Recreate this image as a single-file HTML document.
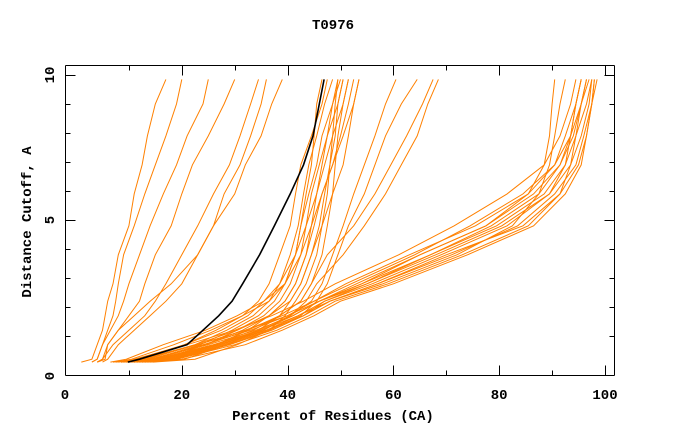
<!DOCTYPE html>
<html><head><meta charset="utf-8"><style>
html,body{margin:0;padding:0;background:#fff;width:680px;height:440px;overflow:hidden}
svg text{font-family:"Liberation Mono",monospace;font-weight:bold;font-size:14px;fill:#000}
</style></head><body>
<svg id="chart" width="680" height="440" xmlns="http://www.w3.org/2000/svg">
<text x="333" y="29" text-anchor="middle">T0976</text>
<text x="333" y="420" text-anchor="middle">Percent of Residues (CA)</text>
<text x="0" y="0" text-anchor="middle" transform="translate(31,222) rotate(-90)">Distance Cutoff, A</text>
<g id="series"></g>
<g id="axes"></g>
</svg>
<script>
const cutoffs=[0.1,0.2,0.7,1.2,1.7,2.2,2.8,3.8,4.8,5.9,6.9,7.9,9,9.85];
const xTicks=[0,20,40,60,80,100];
const yTicks=[0,5,10];
const highlight=[9.8,12,21,24,27,29.5,31.5,34.7,37.5,40.5,43,44.8,46,46.9];
const groupA=[
[1,3,4,5,5.5,6,7,8,10,11,12.5,13.5,15,17],
[3,4,5,6,7,7.5,8,9,11,13,15,17,19,20],
[3,4,5,6.5,8,9,10,12,14,16.5,19,21,24,25],
[4,5,6,8,10,12,13,15,18,20,22,25,28,30],
[4,5,7,10,13,15,17,20,23,26,29,31,33,34.5],
[5,6,8,11,14,17,20,23,26,30,32,35,37,39],
[4,5.5,6,8,11,14,18,23,26,28,31,33,35,36]];
const groupB=[
[7.5,11.5,20.5,26.5,31.5,34.5,36.5,38.5,40.5,41.5,42.5,44.5,46.5,47.5],
[8.5,13.5,22.5,28.5,33.5,36.5,38.5,40.5,42,43,44,45.5,47,48.5],
[10.5,14.5,23.5,29.5,34.5,37.5,39.5,41.5,42.5,44,45.5,46.5,48.5,49.5],
[11.5,16.5,24.5,30.5,35.5,38.5,40.5,42.5,43.5,44.5,46,47.5,49.5,50.5],
[12.5,18.5,26.5,32.5,36.5,39.5,41.5,43.5,44.5,45.5,47,48.5,50.5,51.5],
[8.5,12.5,20.5,27.5,32.5,35.5,38.5,41.5,43.5,45.5,46.5,47.5,48.5,50],
[9.5,14.5,24.5,31.5,36.5,39.5,41.5,43.5,45,46.5,48.5,50,51.5,52.5],
[13.5,20.5,28.5,34.5,38.5,40.5,42.5,44.5,46,47,48,49,49.5,50.5],
[7.5,10.5,18.5,25.5,31.5,36.5,39.5,42.5,44.5,46.5,48.5,50.5,52.5,53.5],
[14.5,22.5,30.5,36.5,39.5,41.5,43.5,45.5,46.5,47.5,48,48.5,49,49.5],
[10.5,16.5,26.5,33.5,38.5,42.5,44.5,46.5,47.5,48.5,49,49.5,50.5,51.5],
[6.5,9.5,16.5,24.5,30.5,35.5,39.5,41.5,42.5,43.5,44.5,45,45.5,46.5]];
const groupD=[
[8.5,12.5,22.5,30.5,36.5,40.5,42.5,44.5,46.5,48.5,50.5,51.5,52.5,53.5],
[10.5,15.5,26.5,34.5,40.5,44.5,46.5,48.5,50.5,52.5,54.5,56.5,58.5,60.5],
[12.5,18.5,28.5,36.5,42.5,45.5,47.5,49.5,51.5,54.5,56.5,58.5,61.5,64.5],
[11.5,17.5,27.5,35.5,40.5,43.5,45.5,50.5,54.5,58.5,61.5,64.5,66.5,68.5],
[9.5,14.5,24.5,32.5,38.5,42.5,44.5,47.5,52.5,56.5,59.5,62.5,65.5,67.5]];
const groupC=[
[9,13,23,32,39,45,51,63,75.5,85.5,90.5,93.5,95.5,96.5],
[10,14,25,34,41,46,54,67,79.5,88.5,92.5,94.5,96.5,97.5],
[11,16,27,36,42,47,56,69,81.5,89.5,93.5,95.5,97,97.5],
[12,17,29,37,43,48,57,71,83.5,90.5,94.5,96,97.5,98],
[13,19,30,38,44,49,59,73,85.5,91.5,95,96.5,97.5,98.5],
[8,12,23,32,40,46,53,65,77.5,86.5,91.5,94,95.5,96.5],
[11,15,26,35,42,48,58,72,82.5,87.5,91.5,93.5,94.5,95.5],
[14,20,32,39,45,50,60,74,86.5,92.5,95.5,96.5,97.5,98],
[9,14,24,33,40,45,52,64,74.5,84.5,90.5,92.5,94.5,95.5],
[10,15,26,35,41,46,55,68,80.5,89.5,92.5,93.5,94.5,95.5],
[12,18,28,36,43,48,57,70,84.5,91.5,93.5,94.5,95.5,97],
[7,11,21,30,37,43,49,61,71.5,81.5,88.5,91.5,93.5,94.5],
[11,17,27,35,41,46,54,65,77.5,85.5,88.5,89.5,90,90.5],
[13,19,29,37,43,47,55,67,78.5,87.5,89.5,90.5,91.5,92.5]];

const NS='http://www.w3.org/2000/svg';
const X0=76,XS=5.29,Y0=365,YS=29;
function xPos(v){return X0+XS*v;}
function yPos(v){return Y0-YS*v;}
const series=document.getElementById('series');
const axes=document.getElementById('axes');
function drawLine(vals,color,w,name){
  const p=document.createElementNS(NS,'polyline');
  p.setAttribute('points',vals.map((v,i)=>xPos(v).toFixed(1)+','+yPos(cutoffs[i]).toFixed(1)).join(' '));
  p.setAttribute('fill','none');p.setAttribute('stroke',color);p.setAttribute('stroke-width',w);
  
  
  series.appendChild(p);
}
[groupA,groupB,groupD,groupC].forEach((g,gi)=>g.forEach((vals,i)=>drawLine(vals,'#ff8000',1,'model-line')));
drawLine(highlight,'#000',1.6,'highlight-model-line');

function ln(x1,y1,x2,y2,name){
  const l=document.createElementNS(NS,'line');
  l.setAttribute('x1',x1);l.setAttribute('y1',y1);l.setAttribute('x2',x2);l.setAttribute('y2',y2);
  l.setAttribute('stroke','#000');l.setAttribute('stroke-width',1);
  
  
  axes.appendChild(l);
}
const L=65.5,R=614.5,T=65.5,B=375.5;
ln(L,T,R,T,'frame-top');ln(L,B,R,B,'frame-bottom');ln(L,T,L,B,'frame-left');ln(R,T,R,B,'frame-right');
for(let v=10;v<=100;v+=10){
  const x=Math.round(xPos(v))+0.5,len=(v%20===0)?10:5;
  ln(x,B,x,B-len,'x-tick');ln(x,T,x,T+len,'x-tick-top');
}
for(let v=1;v<=10;v++){
  const y=Math.round(yPos(v))+0.5,len=(v%5===0)?10:5;
  ln(L,y,L+len,y,'y-tick');ln(R,y,R-len,y,'y-tick-right');
}
xTicks.forEach(v=>{
  const t=document.createElementNS(NS,'text');
  t.setAttribute('x',v===0?65:xPos(v));t.setAttribute('y',399);t.setAttribute('text-anchor','middle');
  t.textContent=v;
  
  
  axes.appendChild(t);
});
yTicks.forEach(v=>{
  const t=document.createElementNS(NS,'text');
  const y=v===0?376:yPos(v);
  t.setAttribute('transform','translate(54,'+y+') rotate(-90)');t.setAttribute('text-anchor','middle');
  t.textContent=v;
  
  
  axes.appendChild(t);
});
</script>
</body></html>
